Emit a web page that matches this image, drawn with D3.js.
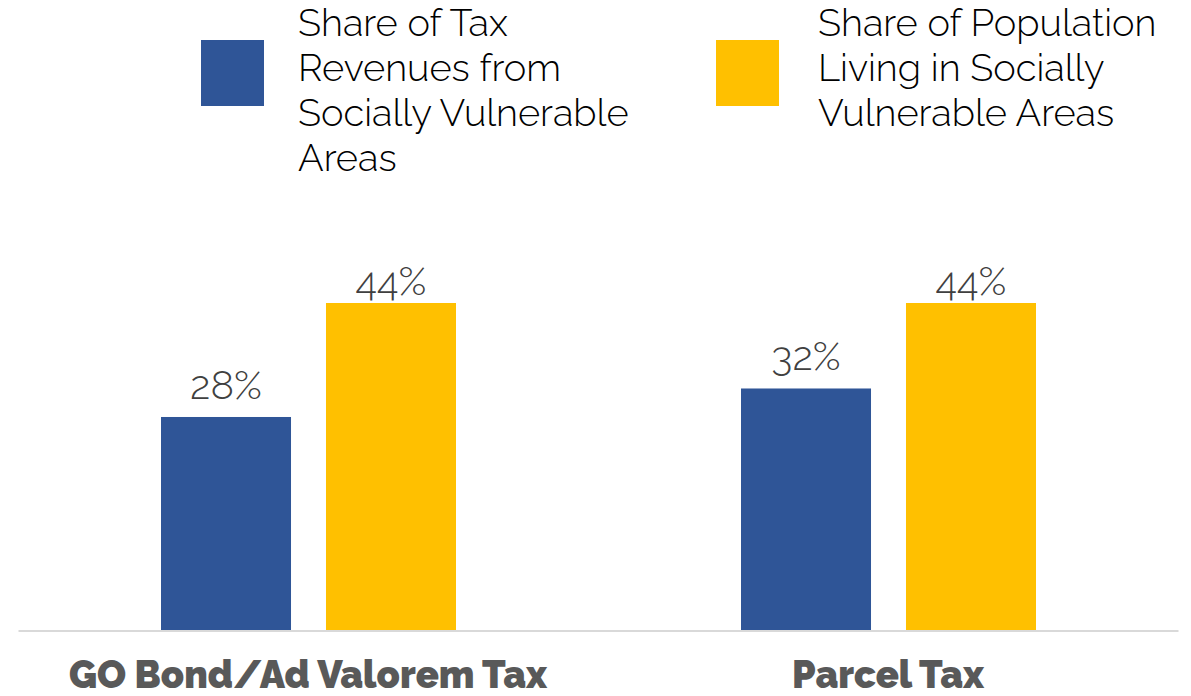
<!DOCTYPE html>
<html>
<head>
<meta charset="utf-8">
<script src="https://cdn.jsdelivr.net/npm/d3@7"></script>
<style>
  html, body { margin: 0; padding: 0; background: #fff; }
  svg { display: block; }
</style>
</head>
<body>
<svg id="chart" width="1191" height="696"></svg>
<script>
// ---- data ----
const categories = ["GO Bond/Ad Valorem Tax", "Parcel Tax"];
const seriesNames = [
  "Share of Tax Revenues from Socially Vulnerable Areas",
  "Share of Population Living in Socially Vulnerable Areas"
];
const taxRevenueShare = [28, 32];
const populationShare = [44, 44];
const legendLines = [
  ["Share of Tax", "Revenues from", "Socially Vulnerable", "Areas"],
  ["Share of Population", "Living in Socially", "Vulnerable Areas"]
];
const seriesColors = ["#2F5597", "#FFC000"];

const FONT = "Raleway, Lato, 'Open Sans', sans-serif";
const svg = d3.select("#chart");

const rows = categories.map((c, i) => ({
  category: c,
  values: [
    { series: seriesNames[0], value: taxRevenueShare[i], idx: 0 },
    { series: seriesNames[1], value: populationShare[i], idx: 1 }
  ]
}));

// ---- scales ----
const x0 = d3.scaleBand().domain(categories).range([18, 1178]);
const x1 = d3.scaleBand().domain(seriesNames).range([143, 438]).paddingInner(0.212);
const y = d3.scaleLinear().domain([-1.9, 44]).range([630, 303]);

// ---- bars ----
const groups = svg.append("g").selectAll("g")
  .data(rows).join("g")
  .attr("transform", d => `translate(${x0(d.category)},0)`);

groups.selectAll("rect")
  .data(d => d.values).join("rect")
  .attr("x", d => x1(d.series))
  .attr("width", x1.bandwidth())
  .attr("y", d => y(d.value))
  .attr("height", d => y(y.domain()[0]) - y(d.value))
  .attr("fill", d => seriesColors[d.idx]);

groups.selectAll("text.val")
  .data(d => d.values).join("text")
  .attr("class", "val")
  .attr("x", d => x1(d.series) + x1.bandwidth() / 2)
  .attr("y", d => Math.max(y(d.value) - 18, 295))
  .attr("text-anchor", "middle")
  .attr("font-family", FONT)
  .attr("font-weight", 300)
  .attr("font-size", 40)
  .attr("fill", "#404040")
  .text(d => d.value + "%");

// ---- axis ----
const xAxis = d3.axisBottom(x0).tickSize(0).tickPadding(0);
const axisG = svg.append("g").attr("transform", "translate(0,630.5)").call(xAxis);
axisG.select(".domain").attr("stroke", "#D9D9D9").attr("stroke-width", 2);
axisG.selectAll(".tick text")
  .attr("y", 57)
  .attr("dy", 0)
  .attr("font-family", FONT)
  .attr("font-weight", 900)
  .attr("font-size", 38)
  .attr("fill", "#595959");

// ---- legend ----
const legendX = [201, 716];
const legendTextX = [298, 818];
const legend = svg.append("g").selectAll("g")
  .data(seriesNames).join("g");
legend.append("rect")
  .attr("x", (d, i) => legendX[i])
  .attr("y", 40)
  .attr("width", 63)
  .attr("height", 66)
  .attr("fill", (d, i) => seriesColors[i]);
legend.append("text")
  .attr("font-family", FONT)
  .attr("font-weight", 300)
  .attr("font-size", 38)
  .attr("fill", "#000")
  .selectAll("tspan")
  .data((d, i) => legendLines[i].map(t => ({ t, i })))
  .join("tspan")
  .attr("x", d => legendTextX[d.i])
  .attr("y", (d, k) => 36 + k * 45)
  .text(d => d.t);
</script>
</body>
</html>
